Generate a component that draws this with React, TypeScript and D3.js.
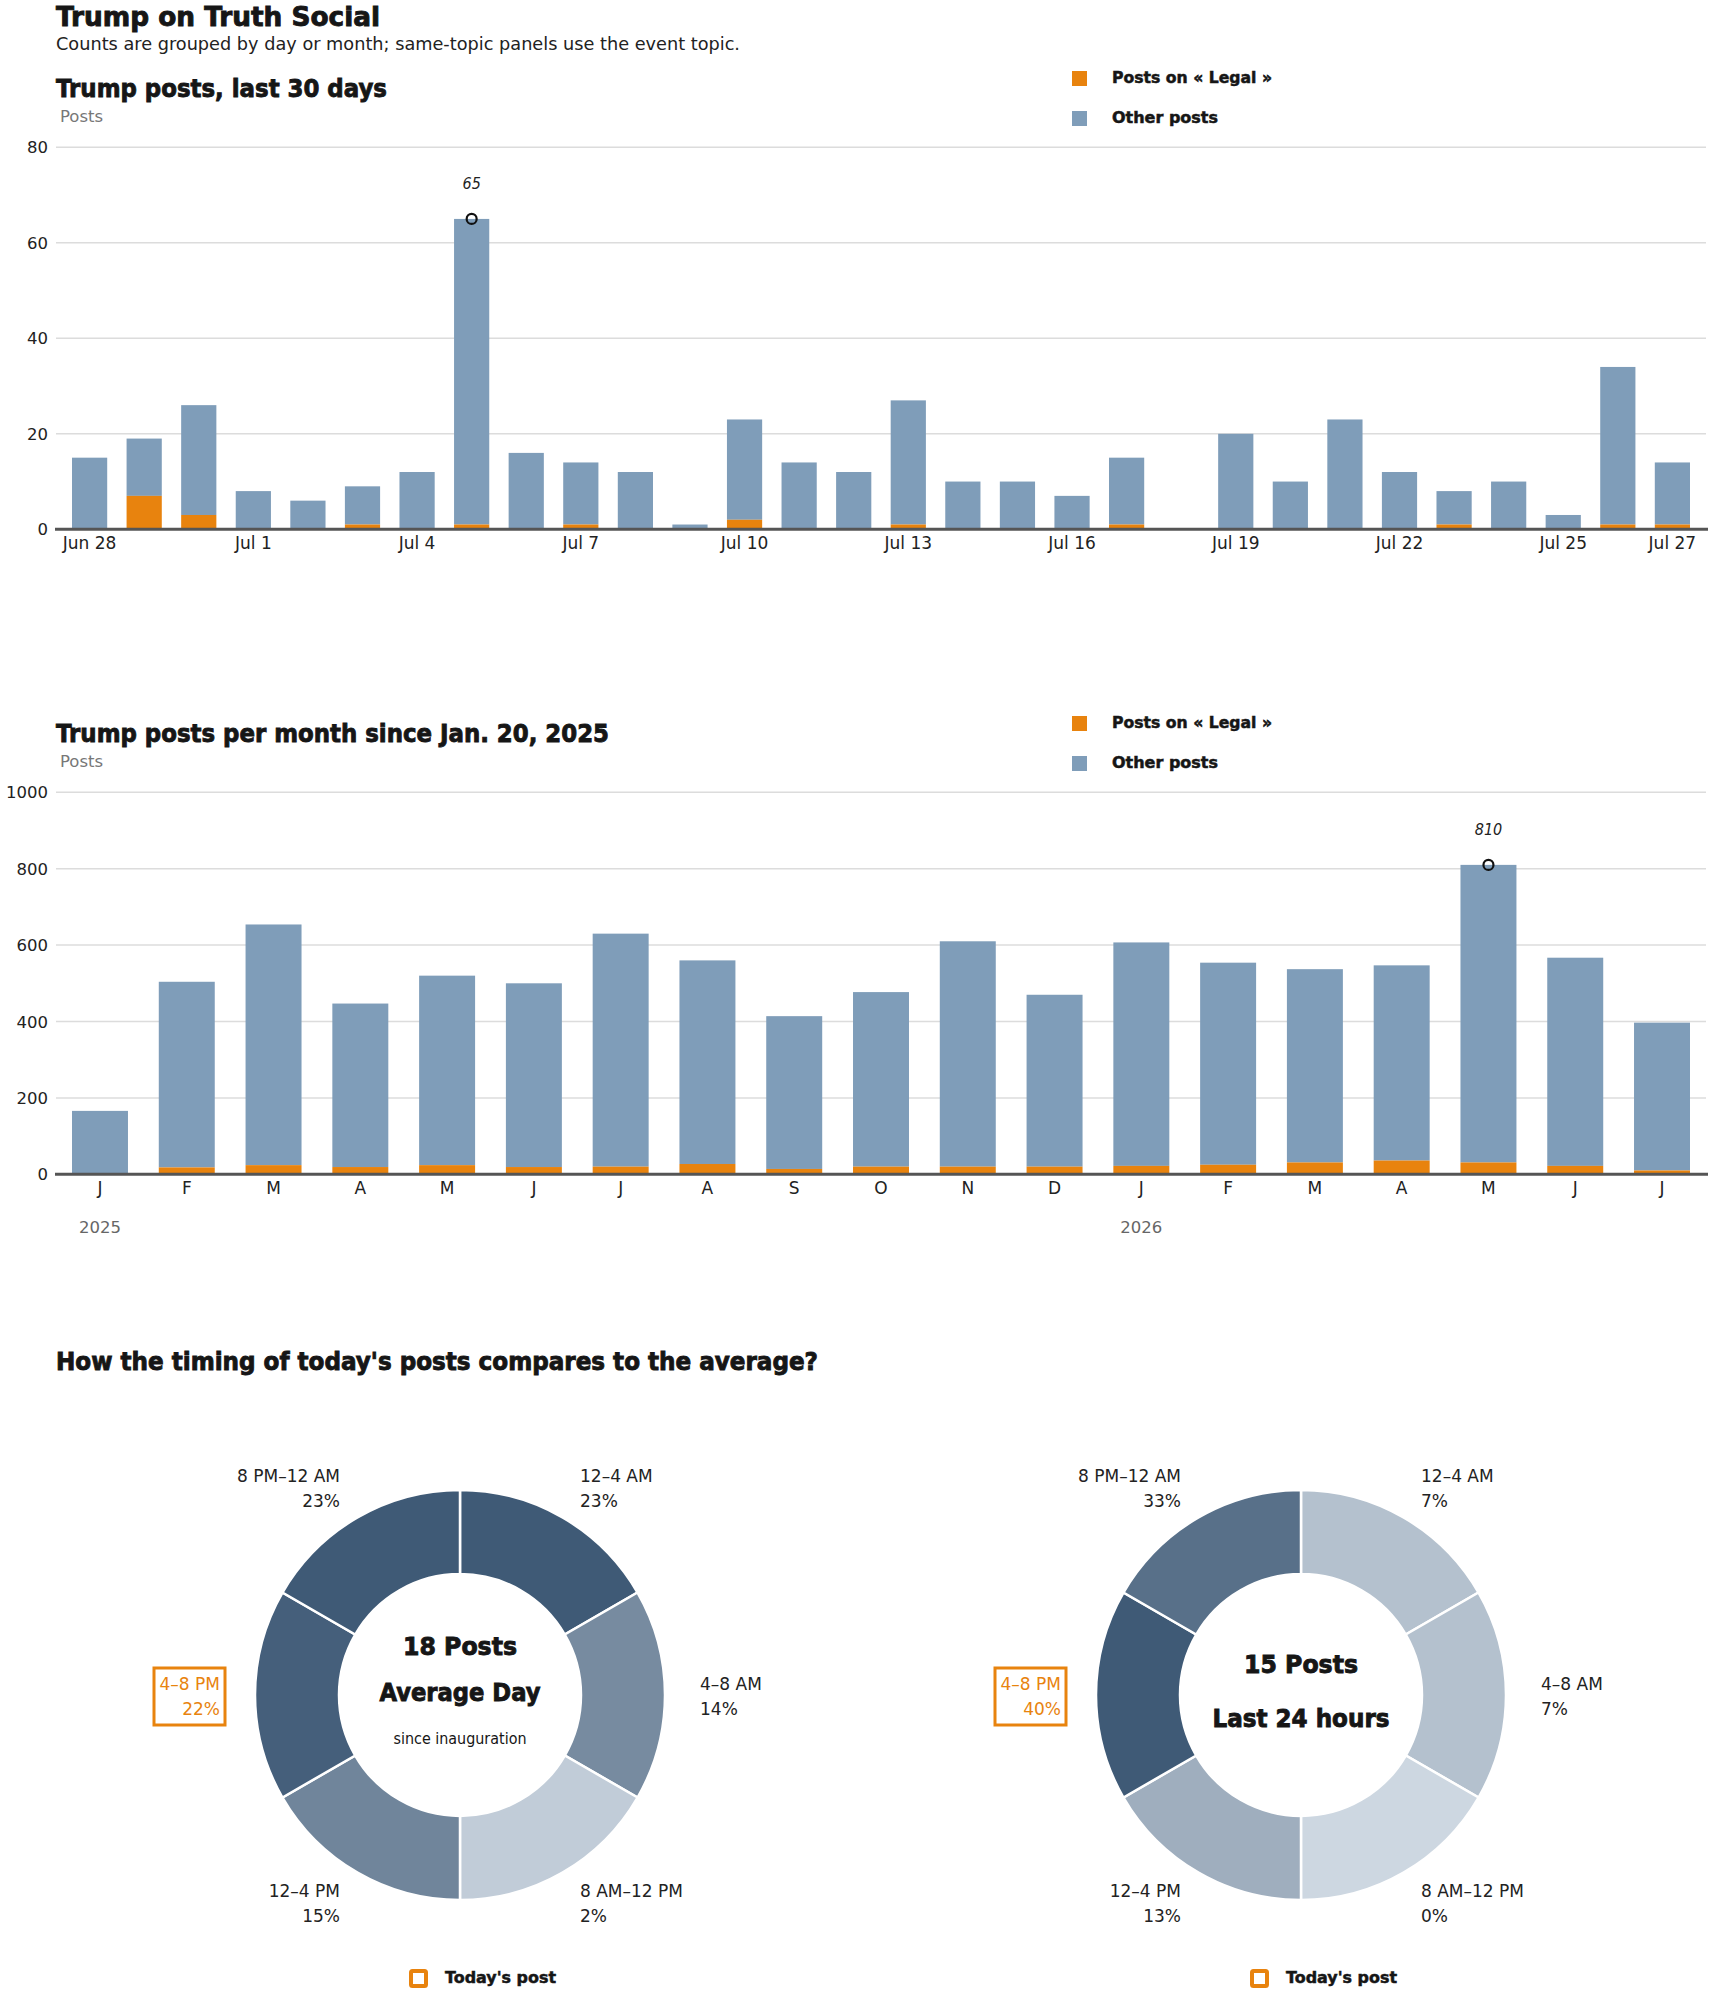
import React from "react";
import * as d3 from "d3";

// ---------- DATA ----------
const dayKeys = [
  "Jun 28", "Jun 29", "Jun 30", "Jul 1", "Jul 2", "Jul 3", "Jul 4", "Jul 5", "Jul 6", "Jul 7",
  "Jul 8", "Jul 9", "Jul 10", "Jul 11", "Jul 12", "Jul 13", "Jul 14", "Jul 15", "Jul 16", "Jul 17",
  "Jul 18", "Jul 19", "Jul 20", "Jul 21", "Jul 22", "Jul 23", "Jul 24", "Jul 25", "Jul 26", "Jul 27",
];
const dayTotals = [15, 19, 26, 8, 6, 9, 12, 65, 16, 14, 12, 1, 23, 14, 12, 27, 10, 10, 7, 15, 0, 20, 10, 23, 12, 8, 10, 3, 34, 14];
const dayLegal = [0, 7, 3, 0, 0, 1, 0, 1, 0, 1, 0, 0, 2, 0, 0, 1, 0, 0, 0, 1, 0, 0, 0, 0, 0, 1, 0, 0, 1, 1];
const dayTicks = ["Jun 28", "Jul 1", "Jul 4", "Jul 7", "Jul 10", "Jul 13", "Jul 16", "Jul 19", "Jul 22", "Jul 25", "Jul 27"];
const dayYTicks = [0, 20, 40, 60, 80];

const monthKeys = [
  "2025-01", "2025-02", "2025-03", "2025-04", "2025-05", "2025-06", "2025-07", "2025-08", "2025-09", "2025-10",
  "2025-11", "2025-12", "2026-01", "2026-02", "2026-03", "2026-04", "2026-05", "2026-06", "2026-07",
];
const monthLabels = ["J", "F", "M", "A", "M", "J", "J", "A", "S", "O", "N", "D", "J", "F", "M", "A", "M", "J", "J"];
const monthTotals = [166, 504, 654, 447, 520, 500, 630, 560, 414, 477, 610, 470, 607, 554, 537, 547, 810, 567, 397];
const monthLegal = [0, 18, 24, 19, 24, 19, 20, 27, 14, 20, 20, 20, 22, 25, 31, 36, 31, 22, 10];
const monthYTicks = [0, 200, 400, 600, 800, 1000];
const yearKeys = ["2025-01", "2026-01"];
const yearLabels = ["2025", "2026"];

const slotLabels = ["12–4 AM", "4–8 AM", "8 AM–12 PM", "12–4 PM", "4–8 PM", "8 PM–12 AM"];
const avgPct = [23, 14, 2, 15, 22, 23];
const todayPct = [7, 7, 0, 13, 40, 33];
const todaySlot = 4;

// ---------- STYLE ----------
const W = 1710;
const H = 1993;
const FONT = "'DejaVu Sans', Roboto, Arial, sans-serif";
const ORANGE = "#e8830e";
const BLUE = "#7f9db9";
const GRID = "#dcdcdc";
const INK = "#161616";
const TEXT = "#222";
const HEAVY = { stroke: INK, strokeWidth: 0.9, paintOrder: "stroke" as any };
const SEMI = { stroke: INK, strokeWidth: 0.5 };

type BarProps = {
  title: string;
  titleLen: number;
  top: number;
  keys: string[];
  totals: number[];
  legal: number[];
  yMax: number;
  yTicks: number[];
  xTickKeys: string[];
  xTickText: (k: string, i: number) => string;
  years?: { key: string; label: string }[];
};

function BarChart(p: BarProps) {
  const y0 = p.top + 432.3;
  const y1 = p.top + 50.3;
  const x = d3.scaleBand<string>().domain(p.keys).range([72, 1690]).paddingInner(0.355).paddingOuter(0);
  const y = d3.scaleLinear().domain([0, p.yMax]).range([y0, y1]);
  const maxI = d3.maxIndex(p.totals);
  const bw = x.bandwidth();
  return (
    <g>
      <text x={56} y={p.top} fontFamily={FONT} fontWeight={700} fontSize={25.5} fill={INK} {...HEAVY}
        textLength={p.titleLen} lengthAdjust="spacingAndGlyphs">{p.title}</text>
      <text x={60} y={p.top + 25} fontFamily={FONT} fontSize={16.5} fill="#777">Posts</text>
      {/* legend */}
      <rect x={1072} y={p.top - 26} width={15} height={15} fill={ORANGE} />
      <text x={1112} y={p.top - 14.5} fontFamily={FONT} fontWeight={700} fontSize={15.5} fill={INK} {...SEMI}
        textLength={160} lengthAdjust="spacingAndGlyphs">Posts on « Legal »</text>
      <rect x={1072} y={p.top + 14} width={15} height={15} fill={BLUE} />
      <text x={1112} y={p.top + 25.5} fontFamily={FONT} fontWeight={700} fontSize={15.5} fill={INK} {...SEMI}
        textLength={106} lengthAdjust="spacingAndGlyphs">Other posts</text>
      {/* grid */}
      {p.yTicks.map((t) => (
        <g key={t}>
          {t > 0 && <line x1={56} x2={1706} y1={y(t)} y2={y(t)} stroke={GRID} strokeWidth={1.5} />}
          <text x={48} y={y(t) + 6} textAnchor="end" fontFamily={FONT} fontSize={16.5} fill={TEXT}>{t}</text>
        </g>
      ))}
      {/* bars */}
      {p.keys.map((k, i) => (
        <g key={k}>
          <rect x={x(k)} y={y(p.totals[i])} width={bw} height={y(p.legal[i]) - y(p.totals[i])} fill={BLUE} />
          {p.legal[i] > 0 && (
            <rect x={x(k)} y={y(p.legal[i])} width={bw} height={y0 - y(p.legal[i])} fill={ORANGE} />
          )}
        </g>
      ))}
      <line x1={55} x2={1708} y1={y0} y2={y0} stroke="#555" strokeWidth={3} />
      {/* x ticks */}
      {p.xTickKeys.map((k, i) => (
        <text key={k + i} x={(x(k) as number) + bw / 2} y={y0 + 19.5} textAnchor="middle" fontFamily={FONT} fontSize={17} fill={TEXT}>
          {p.xTickText(k, i)}
        </text>
      ))}
      {p.years &&
        p.years.map((yr) => (
          <text key={yr.key} x={(x(yr.key) as number) + bw / 2} y={y0 + 59} textAnchor="middle" fontFamily={FONT} fontSize={16.5} fill="#666">
            {yr.label}
          </text>
        ))}
      {/* annotation of max */}
      <circle cx={(x(p.keys[maxI]) as number) + bw / 2} cy={y(p.totals[maxI])} r={5} fill="none" stroke="#111" strokeWidth={2.2} />
      <text x={(x(p.keys[maxI]) as number) + bw / 2} y={y(p.totals[maxI]) - 30} textAnchor="middle"
        fontFamily="'Liberation Sans Narrow', 'DejaVu Sans Condensed', Roboto, sans-serif" fontStyle="italic" fontSize={16} fill="#222">
        {p.totals[maxI]}
      </text>
    </g>
  );
}

type DonutProps = {
  cx: number;
  cy: number;
  pct: number[];
  centerLines: { text: string; dy: number; size: number; weight: number; len: number }[];
};

const labelPos = [
  { dx: 120, dy: -213, anchor: "start" },
  { dx: 240, dy: -5, anchor: "start" },
  { dx: 120, dy: 202, anchor: "start" },
  { dx: -120, dy: 202, anchor: "end" },
  { dx: -240, dy: -5, anchor: "end" },
  { dx: -120, dy: -213, anchor: "end" },
];

function Donut(p: DonutProps) {
  const pie = d3.pie<number>().value(() => 1).sort(null);
  const arcs = pie(p.pct);
  const arc = d3.arc<d3.PieArcDatum<number>>().innerRadius(121).outerRadius(205);
  const color = d3.scaleLinear<string>().domain([0, d3.max(p.pct) as number]).range(["#cdd7e1", "#3f5a76"]).interpolate(d3.interpolateRgb);
  return (
    <g>
      <g transform={`translate(${p.cx},${p.cy})`}>
        {arcs.map((a, i) => (
          <path key={i} d={arc(a) as string} fill={color(p.pct[i])} stroke="#fff" strokeWidth={2.5} />
        ))}
        {p.centerLines.map((l, i) => (
          <text key={i} x={0} y={l.dy} textAnchor="middle" fontFamily={FONT} fontWeight={l.weight} fontSize={l.size} fill={INK}
            {...(l.weight >= 700 ? HEAVY : {})}
            textLength={l.len} lengthAdjust="spacingAndGlyphs">{l.text}</text>
        ))}
      </g>
      {slotLabels.map((lab, i) => {
        const lp = labelPos[i];
        const hi = i === todaySlot;
        const col = hi ? ORANGE : TEXT;
        return (
          <g key={lab}>
            {hi && (
              <rect x={p.cx + lp.dx - 66} y={p.cy + lp.dy - 22} width={71} height={57} fill="none" stroke={ORANGE} strokeWidth={3} />
            )}
            <text x={p.cx + lp.dx} y={p.cy + lp.dy} textAnchor={lp.anchor as any} fontFamily={FONT} fontSize={17} fill={col}>{lab}</text>
            <text x={p.cx + lp.dx} y={p.cy + lp.dy + 24.5} textAnchor={lp.anchor as any} fontFamily={FONT} fontSize={17} fill={col}>{p.pct[i]}%</text>
          </g>
        );
      })}
      <rect x={p.cx - 49} y={1971} width={15} height={15} rx={1.5} fill="#fff" stroke={ORANGE} strokeWidth={4} />
      <text x={p.cx - 15} y={1982.5} fontFamily={FONT} fontWeight={700} fontSize={15.5} fill={INK} {...SEMI}
        textLength={111} lengthAdjust="spacingAndGlyphs">Today's post</text>
    </g>
  );
}

export default function App() {
  const monthIdx = new Map(monthKeys.map((k, i) => [k, i]));
  return (
    <svg width={W} height={H} viewBox={`0 0 ${W} ${H}`} style={{ position: "absolute", left: 0, top: 0, background: "#fff" }}>
      <text x={56} y={26} fontFamily={FONT} fontWeight={700} fontSize={26} fill={INK} {...HEAVY}
        textLength={324} lengthAdjust="spacingAndGlyphs">Trump on Truth Social</text>
      <text x={56} y={50} fontFamily={FONT} fontSize={17} fill={TEXT}
        textLength={684} lengthAdjust="spacingAndGlyphs">Counts are grouped by day or month; same-topic panels use the event topic.</text>

      <BarChart
        title="Trump posts, last 30 days"
        titleLen={331}
        top={97}
        keys={dayKeys}
        totals={dayTotals}
        legal={dayLegal}
        yMax={80}
        yTicks={dayYTicks}
        xTickKeys={dayTicks}
        xTickText={(k) => k}
      />
      <BarChart
        title="Trump posts per month since Jan. 20, 2025"
        titleLen={553}
        top={742}
        keys={monthKeys}
        totals={monthTotals}
        legal={monthLegal}
        yMax={1000}
        yTicks={monthYTicks}
        xTickKeys={monthKeys}
        xTickText={(k) => monthLabels[monthIdx.get(k) as number]}
        years={yearKeys.map((k, i) => ({ key: k, label: yearLabels[i] }))}
      />

      <text x={56} y={1370} fontFamily={FONT} fontWeight={700} fontSize={24.5} fill={INK} {...HEAVY}
        textLength={762} lengthAdjust="spacingAndGlyphs">How the timing of today's posts compares to the average?</text>

      <Donut
        cx={460}
        cy={1695}
        pct={avgPct}
        centerLines={[
          { text: "18 Posts", dy: -40, size: 24.5, weight: 700, len: 114 },
          { text: "Average Day", dy: 6, size: 24.5, weight: 700, len: 161 },
          { text: "since inauguration", dy: 49, size: 15, weight: 400, len: 133 },
        ]}
      />
      <Donut
        cx={1301}
        cy={1695}
        pct={todayPct}
        centerLines={[
          { text: "15 Posts", dy: -22, size: 24.5, weight: 700, len: 114 },
          { text: "Last 24 hours", dy: 32, size: 24.5, weight: 700, len: 177 },
        ]}
      />
    </svg>
  );
}
